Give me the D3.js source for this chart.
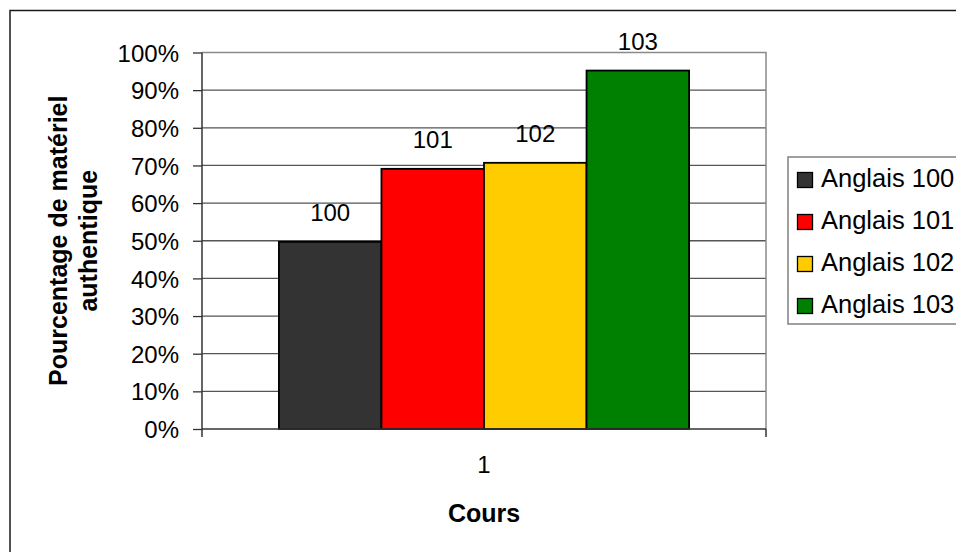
<!DOCTYPE html>
<html>
<head>
<meta charset="utf-8">
<script src="https://cdn.jsdelivr.net/npm/d3@7"></script>
<style>
  html, body { margin: 0; padding: 0; background: #fff; }
  svg { display: block; font-family: "Liberation Sans", Arial, sans-serif; }
</style>
</head>
<body>
<svg id="chart" width="956" height="552"></svg>
<script>
// Course categories on the x axis
const categories = ["1"];
// One series per English course
const seriesNames = ["Anglais 100", "Anglais 101", "Anglais 102", "Anglais 103"];
const seriesLabels = ["100", "101", "102", "103"];
// Share of authentic material per course (fraction of 1)
const seriesValues = [0.497, 0.691, 0.707, 0.952];
const seriesColors = ["#333333", "#ff0000", "#ffcc00", "#008000"];
// Y axis ticks
const yTicks = [0, 0.1, 0.2, 0.3, 0.4, 0.5, 0.6, 0.7, 0.8, 0.9, 1.0];

const svg = d3.select("#chart");

// Outer chart frame
svg.append("rect")
  .attr("x", 10).attr("y", 10.5)
  .attr("width", 1000).attr("height", 600)
  .attr("fill", "none").attr("stroke", "#1a1a1a").attr("stroke-width", 1.5);

const plot = { left: 202, right: 766, top: 52.5, bottom: 429 };

const y = d3.scaleLinear().domain([0, 1]).range([plot.bottom, plot.top]);
const x0 = d3.scaleBand().domain(categories)
  .range([plot.left, plot.right]).paddingInner(0).paddingOuter(0.1875);
const x1 = d3.scaleBand().domain(seriesNames).range([0, x0.bandwidth()]);

// Gridlines
svg.append("g").selectAll("line")
  .data(yTicks.filter(t => t > 0 && t < 1))
  .join("line")
  .attr("x1", plot.left).attr("x2", plot.right)
  .attr("y1", d => y(d)).attr("y2", d => y(d))
  .attr("stroke", "#555").attr("stroke-width", 1.3);

// Plot area border (top and right)
svg.append("path")
  .attr("d", `M${plot.left},${y(1)}H${plot.right}V${plot.bottom}`)
  .attr("fill", "none").attr("stroke", "#8a8a8a").attr("stroke-width", 1.5);

// Bars
const series = seriesNames.map((name, i) => ({
  name, label: seriesLabels[i], value: seriesValues[i], color: seriesColors[i]
}));

const group = svg.append("g")
  .attr("transform", `translate(${x0(categories[0])},0)`);

group.selectAll("rect")
  .data(series)
  .join("rect")
  .attr("x", d => x1(d.name))
  .attr("y", d => y(d.value))
  .attr("width", x1.bandwidth())
  .attr("height", d => y(0) - y(d.value))
  .attr("fill", d => d.color)
  .attr("stroke", "#000").attr("stroke-width", 1.8);

// Series labels above bars
group.selectAll("text")
  .data(series)
  .join("text")
  .attr("x", d => x1(d.name) + x1.bandwidth() / 2)
  .attr("y", d => y(d.value) - 20.5)
  .attr("text-anchor", "middle")
  .attr("font-size", 24)
  .attr("fill", "#000")
  .text(d => d.label);

// Y axis
const yAxis = d3.axisLeft(y).tickValues(yTicks).tickFormat(d3.format(".0%"))
  .tickSize(9).tickPadding(14);
const gy = svg.append("g").attr("transform", `translate(${plot.left},0)`).call(yAxis);
gy.select(".domain").remove();
gy.selectAll(".tick line").attr("stroke", "#333").attr("stroke-width", 1.3);
gy.selectAll(".tick text").attr("font-size", 24).attr("fill", "#000")
  .attr("font-family", "Liberation Sans, Arial, sans-serif").attr("dy", "0.36em");
svg.append("line")
  .attr("x1", plot.left).attr("x2", plot.left)
  .attr("y1", plot.top).attr("y2", plot.bottom + 8)
  .attr("stroke", "#333").attr("stroke-width", 1.5);

// X axis
svg.append("line")
  .attr("x1", plot.left).attr("x2", plot.right)
  .attr("y1", plot.bottom).attr("y2", plot.bottom)
  .attr("stroke", "#333").attr("stroke-width", 1.5);
svg.append("line")
  .attr("x1", plot.right).attr("x2", plot.right)
  .attr("y1", plot.bottom).attr("y2", plot.bottom + 8)
  .attr("stroke", "#333").attr("stroke-width", 1.5);
svg.append("g").selectAll("text")
  .data(categories)
  .join("text")
  .attr("x", d => x0(d) + x0.bandwidth() / 2)
  .attr("y", plot.bottom + 44)
  .attr("text-anchor", "middle")
  .attr("font-size", 24)
  .text(d => d);

// Axis titles
svg.append("text")
  .attr("x", (plot.left + plot.right) / 2)
  .attr("y", 522)
  .attr("text-anchor", "middle")
  .attr("font-size", 25).attr("font-weight", "bold")
  .text("Cours");

const yTitle = svg.append("g")
  .attr("transform", `translate(0,${(plot.top + plot.bottom) / 2}) rotate(-90)`)
  .attr("font-size", 25).attr("font-weight", "bold")
  .attr("text-anchor", "middle");
yTitle.append("text").attr("x", 0).attr("y", 67).text("Pourcentage de matériel");
yTitle.append("text").attr("x", 0).attr("y", 97).text("authentique");

// Legend
const legend = svg.append("g");
legend.append("rect")
  .attr("x", 788).attr("y", 157)
  .attr("width", 300).attr("height", 167)
  .attr("fill", "#fff").attr("stroke", "#808080").attr("stroke-width", 1.5);
const rowY = d3.scalePoint().domain(seriesNames).range([180, 306]);
const items = legend.selectAll("g.item")
  .data(series)
  .join("g").attr("class", "item")
  .attr("transform", d => `translate(0,${rowY(d.name)})`);
items.append("rect")
  .attr("x", 797.5).attr("y", -7.5)
  .attr("width", 15).attr("height", 15)
  .attr("fill", d => d.color).attr("stroke", "#000").attr("stroke-width", 1.3);
items.append("text")
  .attr("x", 821).attr("y", 6.5)
  .attr("font-size", 25.5)
  .text(d => d.name);
</script>
</body>
</html>
